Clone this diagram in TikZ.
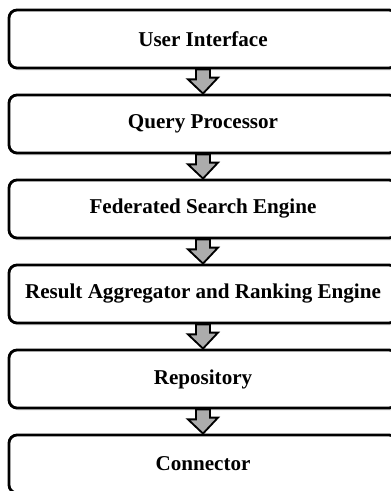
\documentclass[tikz,border=0pt]{standalone}
\usepackage{fontspec}
\setmainfont{Liberation Serif}
\usetikzlibrary{calc,shadows}

\begin{document}
\begin{tikzpicture}
      \tikzset{layer/.style={draw, rounded corners=.2cm, line width=2pt, fill=white, minimum width=9.7cm, minimum height=1.45cm, font=\fontsize{15}{18}\selectfont\bfseries, drop shadow={shadow xshift=.04cm, shadow yshift=-.06cm, opacity=.25, fill=gray}},
               flowarrow/.style={draw, line width=1.3pt, fill=gray!65, line join=miter}}

      \useasboundingbox (0,0) rectangle (9.75,-12.275);

      \node[layer] (ui) at (5.075,-0.975) {User Interface};
      \node[layer] (qp) at (5.075,-3.1) {Query Processor};
      \node[layer] (fse) at (5.075,-5.225) {Federated Search Engine};
      \node[layer] (rar) at (5.075,-7.35) {Result Aggregator and Ranking Engine};
      \node[layer] (repo) at (5.075,-9.475) {Repository};
      \node[layer] (con) at (5.075,-11.6) {Connector};

      \foreach \a/\b in {ui/qp, qp/fse, fse/rar, rar/repo, repo/con}
            \draw[flowarrow] ($(\a.south)+(-.175,0)$) -- ++(0,-.25) -- ++(-.2,0) -- (\b.north) -- ++(.375,.4) -- ++(-.2,0) -- ($(\a.south)+(.175,0)$) -- cycle;
\end{tikzpicture}
\end{document}
